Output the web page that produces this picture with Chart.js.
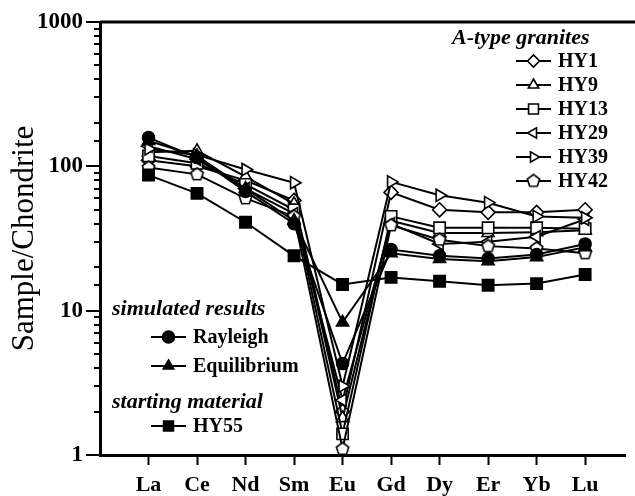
<!DOCTYPE html>
<html>
<head>
<meta charset="utf-8">
<title>REE patterns</title>
<script src="https://cdn.jsdelivr.net/npm/chart.js@4/dist/chart.umd.min.js"></script>
<style>
  html, body { margin: 0; padding: 0; background: #fff; }
  #wrap { position: relative; width: 635px; height: 496px; }
</style>
</head>
<body>
<div id="wrap"><canvas id="reeChart" width="635" height="496"></canvas></div>
<script>
// chondrite-normalised REE values
const elements = ['La', 'Ce', 'Nd', 'Sm', 'Eu', 'Gd', 'Dy', 'Er', 'Yb', 'Lu'];
const yTickValues = [1, 10, 100, 1000];

const hy1 = [110, 100, 80, 58, 2.0, 66, 50, 48, 48, 50];
const hy9 = [125, 128, 85, 55, 1.8, 42, 34.5, 34.5, 35, 36];
const hy13 = [118, 105, 75, 50, 1.4, 45, 37.5, 37.5, 37.5, 37];
const hy29 = [138, 112, 70, 47, 2.4, 40, 29, 30, 32.5, 43];
const hy39 = [132, 120, 95, 77, 3.0, 78, 63, 56, 45, 44];
const hy42 = [98, 88, 60, 45, 1.1, 39, 31, 28, 27, 25];
const rayleigh = [158, 115, 67, 40, 4.3, 26.5, 24, 23, 24.5, 29];
const equilibrium = [150, 118, 70, 42, 8.3, 25, 22.8, 22, 23.5, 27.5];
const hy55 = [87, 65, 41, 24, 15.2, 17, 16, 15, 15.4, 17.8];

const SERIF = "'Liberation Serif', 'DejaVu Serif', serif";

// open pentagon marker (no built-in style for it)
function pentagon(r) {
  const c = document.createElement('canvas');
  const s = Math.ceil(r * 2 + 4);
  c.width = s; c.height = s;
  const g = c.getContext('2d');
  g.beginPath();
  for (let i = 0; i < 5; i++) {
    const a = -Math.PI / 2 + i * 2 * Math.PI / 5;
    const px = s / 2 + r * Math.cos(a), py = s / 2 + r * Math.sin(a);
    i ? g.lineTo(px, py) : g.moveTo(px, py);
  }
  g.closePath();
  g.fillStyle = '#fff';
  g.fill();
  g.lineWidth = 1.6;
  g.strokeStyle = '#000';
  g.stroke();
  return c;
}

function series(label, values, style, opts) {
  return Object.assign({
    label: label,
    data: values.map((v, i) => ({ x: i, y: v })),
    borderColor: '#000',
    borderWidth: 2,
    pointStyle: style,
    pointRadius: 7,
    pointBorderWidth: 1.6,
    pointBackgroundColor: '#fff',
    pointBorderColor: '#000',
    tension: 0
  }, opts || {});
}

const datasets = [
  series('HY1', hy1, 'rectRot', { order: 9 }),
  series('HY9', hy9, 'triangle', { order: 8 }),
  series('HY13', hy13, 'rect', { order: 7, pointRadius: 8 }),
  series('HY29', hy29, 'triangle', { order: 6, pointRotation: -90 }),
  series('HY39', hy39, 'triangle', { order: 5, pointRotation: 90 }),
  series('HY42', hy42, pentagon(6.5), { order: 4 }),
  series('Rayleigh', rayleigh, 'circle', { order: 3, pointRadius: 6, pointBackgroundColor: '#000' }),
  series('Equilibrium', equilibrium, 'triangle', { order: 2, pointBackgroundColor: '#000' }),
  series('HY55', hy55, 'rect', { order: 1, pointRadius: 8, pointBackgroundColor: '#000' })
];

// log axis tick marks (long at decades, short in between) and the top frame line
const frame = {
  id: 'frame',
  afterDraw(chart) {
    const ctx = chart.ctx;
    const y = chart.scales.y;
    const area = chart.chartArea;
    ctx.save();
    ctx.strokeStyle = '#000';
    ctx.lineWidth = 2;
    y.ticks.forEach(t => {
      const py = Math.round(y.getPixelForValue(t.value));
      const major = yTickValues.includes(t.value);
      ctx.beginPath();
      ctx.moveTo(area.left - (major ? 14 : 6), py);
      ctx.lineTo(area.left, py);
      ctx.stroke();
    });
    ctx.lineWidth = 3;
    ctx.beginPath();
    ctx.moveTo(area.left, area.top);
    ctx.lineTo(chart.width, area.top);
    ctx.stroke();
    ctx.restore();
  }
};

const legendGroups = [
  { title: 'A-type granites', x: 452, y: 38, lineX: 516, rowY: 61, step: 24,
    items: ['HY1', 'HY9', 'HY13', 'HY29', 'HY39', 'HY42'] },
  { title: 'simulated results', x: 112, y: 309, lineX: 151, rowY: 337, step: 29,
    items: ['Rayleigh', 'Equilibrium'] },
  { title: 'starting material', x: 112, y: 402, lineX: 151, rowY: 426, step: 29,
    items: ['HY55'] }
];

const groupedLegend = {
  id: 'groupedLegend',
  afterDraw(chart) {
    const ctx = chart.ctx;
    ctx.save();
    ctx.textBaseline = 'middle';
    ctx.fillStyle = '#000';
    legendGroups.forEach(grp => {
      ctx.font = 'italic bold 22px ' + SERIF;
      ctx.textAlign = 'left';
      ctx.fillText(grp.title, grp.x, grp.y);
      grp.items.forEach((name, i) => {
        const ds = chart.data.datasets.find(d => d.label === name);
        const cy = grp.rowY + i * grp.step;
        ctx.strokeStyle = '#000';
        ctx.lineWidth = 2;
        ctx.beginPath();
        ctx.moveTo(grp.lineX, cy);
        ctx.lineTo(grp.lineX + 35, cy);
        ctx.stroke();
        ctx.fillStyle = ds.pointBackgroundColor;
        ctx.lineWidth = 1.6;
        Chart.helpers.drawPoint(ctx, {
          pointStyle: ds.pointStyle,
          rotation: ds.pointRotation || 0,
          radius: ds.pointStyle === 'rect' ? 7 : 6,
          borderWidth: 1.6
        }, grp.lineX + 17.5, cy);
        ctx.fillStyle = '#000';
        ctx.font = 'bold 20px ' + SERIF;
        ctx.fillText(name, grp.lineX + 42, cy + 1);
      });
    });
    ctx.restore();
  }
};

new Chart(document.getElementById('reeChart'), {
  type: 'line',
  data: { datasets: datasets },
  options: {
    responsive: false,
    animation: false,
    layout: { padding: { top: 22, right: 0, left: 0, bottom: 0 } },
    plugins: {
      legend: { display: false },
      tooltip: { enabled: false }
    },
    scales: {
      x: {
        type: 'linear',
        min: -1,
        max: 9.83,
        afterBuildTicks: scale => { scale.ticks = elements.map((e, i) => ({ value: i })); },
        afterFit: scale => {
          scale.height = 41;
          scale.paddingLeft = 0;
          scale.paddingRight = 0;
        },
        border: { color: '#000', width: 3 },
        grid: { drawOnChartArea: false, tickLength: 10, tickWidth: 2, tickColor: '#000' },
        ticks: {
          autoSkip: false,
          maxRotation: 0,
          padding: 7,
          color: '#000',
          font: { family: SERIF, size: 22, weight: 'bold' },
          callback: v => elements[v]
        }
      },
      y: {
        type: 'logarithmic',
        min: 1,
        max: 1000,
        afterFit: scale => {
          scale.width = 100;
          scale.paddingTop = 0;
          scale.paddingBottom = 0;
        },
        border: { color: '#000', width: 3 },
        grid: { drawOnChartArea: false, drawTicks: false },
        title: {
          display: true,
          text: 'Sample/Chondrite',
          color: '#000',
          padding: { top: 6, bottom: 0 },
          font: { family: SERIF, size: 31 }
        },
        ticks: {
          autoSkip: false,
          padding: 17,
          color: '#000',
          font: { family: SERIF, size: 23, weight: 'bold' },
          callback: v => yTickValues.includes(v) ? String(v) : ''
        }
      }
    }
  },
  plugins: [frame, groupedLegend]
});
</script>
</body>
</html>
